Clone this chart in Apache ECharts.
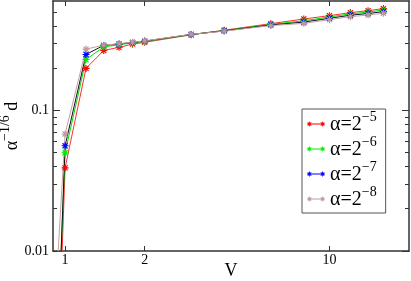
<!DOCTYPE html>
<html>
<head>
<meta charset="utf-8">
<script src="https://cdn.jsdelivr.net/npm/echarts@6/dist/echarts.min.js"></script>
<style>html,body{margin:0;padding:0;background:#fff}#c{width:411px;height:281px}</style>
</head>
<body>
<div id="c"></div>
<script>
// ---- data ----
const xValues = [0.9, 1, 1.2, 1.4, 1.6, 1.8, 2, 3, 4, 6, 8, 10, 12, 14, 16];
const alpha5 = [0.00015, 0.039, 0.199, 0.267, 0.281, 0.296, 0.305, 0.345, 0.372, 0.414, 0.447, 0.472, 0.496, 0.512, 0.530];
const alpha6 = [0.00037, 0.050, 0.230, 0.283, 0.293, 0.302, 0.309, 0.346, 0.370, 0.409, 0.434, 0.462, 0.486, 0.500, 0.518];
const alpha7 = [0.00030, 0.056, 0.250, 0.290, 0.297, 0.304, 0.311, 0.347, 0.368, 0.405, 0.425, 0.452, 0.475, 0.489, 0.504];
const alpha8 = [0.0024, 0.068, 0.273, 0.291, 0.298, 0.305, 0.312, 0.348, 0.366, 0.401, 0.416, 0.442, 0.464, 0.477, 0.491];
const seriesNames = ['a5', 'a6', 'a7', 'a8'];
const seriesExp = ['−5', '−6', '−7', '−8'];
const xTickLabels = [1, 2, 10];
const yMajorTicks = [0.01, 0.1];
const yMinorTicks = [0.02, 0.03, 0.04, 0.05, 0.06, 0.07, 0.08, 0.09, 0.2, 0.3, 0.4, 0.5];

// ---- styling ----
const SERIF = '"Liberation Serif", "DejaVu Serif", serif';
const AX = '#333';
function star(cx, cy, s) {
  const h = s / 2, t = s * 0.08, d = h * 0.72, e = t * 0.75;
  const rect = (x0, y0, x1, y1) => `M${x0},${y0} L${x1},${y0} L${x1},${y1} L${x0},${y1} Z`;
  let p = rect(cx - h, cy - t, cx + h, cy + t) + ' ' + rect(cx - t, cy - h, cx + t, cy + h);
  p += ` M${cx - d - e},${cy - d + e} L${cx - d + e},${cy - d - e} L${cx + d + e},${cy + d - e} L${cx + d - e},${cy + d + e} Z`;
  p += ` M${cx + d - e},${cy - d - e} L${cx + d + e},${cy - d + e} L${cx - d + e},${cy + d + e} L${cx - d - e},${cy + d - e} Z`;
  return p;
}
const starSymbol = 'path://' + star(5, 5, 10);
const legendIcon = 'path://M0,2.6 L18,2.6 L18,3.4 L0,3.4 Z ' + star(2.5, 3, 5) + ' ' + star(15.5, 3, 5);
const colors = ['#ff0000', '#00ee00', '#0000ff', '#c09a9a'];
const lineColors = ['#ff3030', '#00dd00', '#101020', '#c8a0a0'];
const seriesData = [alpha5, alpha6, alpha7, alpha8];

const chart = echarts.init(document.getElementById('c'), null, {renderer: 'canvas'});
const logAxisX = (pos, showLabel) => ({
  type: 'log', position: pos, min: 0.9, max: 20,
  axisLine: {show: true, lineStyle: {color: AX, width: 1.5}},
  axisTick: {show: true, inside: true, length: 5, customValues: xTickLabels, lineStyle: {color: AX}},
  axisLabel: {show: showLabel, customValues: xTickLabels, color: '#000', fontFamily: SERIF, fontSize: 14, margin: 2},
  splitLine: {show: false}, minorTick: {show: false}, minorSplitLine: {show: false}
});
const logAxisY = (pos, ticks, len, showLabel, showLine) => ({
  type: 'log', position: pos, min: 0.01, max: 0.6,
  axisLine: {show: showLine, lineStyle: {color: AX, width: 1.5}},
  axisTick: {show: true, inside: true, length: len, customValues: ticks, lineStyle: {color: AX}},
  axisLabel: {show: showLabel, customValues: ticks, color: '#000', fontFamily: SERIF, fontSize: 14, margin: 4},
  splitLine: {show: false}
});
const xMain = logAxisX('bottom', true);
xMain.name = 'V';
xMain.nameLocation = 'middle';
xMain.nameGap = 11;
xMain.nameMoveOverlap = false;
xMain.nameTextStyle = {fontFamily: SERIF, fontSize: 18, color: '#000', verticalAlign: 'top'};
const yMain = logAxisY('left', yMajorTicks, 7, true, true);
yMain.name = '{a|α}{s|−1/6}{a| d}';
yMain.nameLocation = 'middle';
yMain.nameGap = 32;
yMain.nameMoveOverlap = false;
yMain.nameTextStyle = {
  color: '#000', verticalAlign: 'bottom',
  rich: {
    a: {fontFamily: SERIF, fontSize: 18, color: '#000', lineHeight: 20, verticalAlign: 'bottom'},
    s: {fontFamily: SERIF, fontSize: 14, color: '#000', lineHeight: 14, verticalAlign: 'bottom', padding: [0, 0, 9, 0]}
  }
};

chart.setOption({
  animation: false,
  backgroundColor: '#fff',
  grid: {left: 53, right: 2, top: 1, bottom: 30, containLabel: false, outerBoundsMode: 'none'},
  xAxis: [xMain, logAxisX('top', false)],
  yAxis: [
    yMain,
    logAxisY('left', yMinorTicks, 4, false, false),
    logAxisY('right', yMajorTicks, 7, false, true),
    logAxisY('right', yMinorTicks, 4, false, false)
  ],
  legend: {
    orient: 'vertical', left: 302, top: 109,
    data: seriesNames,
    icon: legendIcon, itemWidth: 18, itemHeight: 6, itemGap: 0,
    padding: [1, 9, 3, 5],
    borderColor: '#555', borderWidth: 1, backgroundColor: '#fff',
    formatter: function (name) {
      return '{a|α=2}{s|' + seriesExp[seriesNames.indexOf(name)] + '}';
    },
    textStyle: {
      color: '#000',
      rich: {
        a: {fontFamily: SERIF, fontSize: 20, color: '#000', lineHeight: 22, verticalAlign: 'bottom'},
        s: {fontFamily: SERIF, fontSize: 14, color: '#000', lineHeight: 14, verticalAlign: 'bottom', padding: [0, 0, 11, 0]}
      }
    }
  },
  series: seriesNames.map((n, i) => ({
    name: n, type: 'line',
    data: xValues.map((x, j) => [x, seriesData[i][j]]),
    symbol: starSymbol, symbolSize: 7,
    clip: true,
    itemStyle: {color: colors[i]},
    lineStyle: {color: lineColors[i], width: 1},
    emphasis: {disabled: true}
  }))
});
</script>
</body>
</html>
